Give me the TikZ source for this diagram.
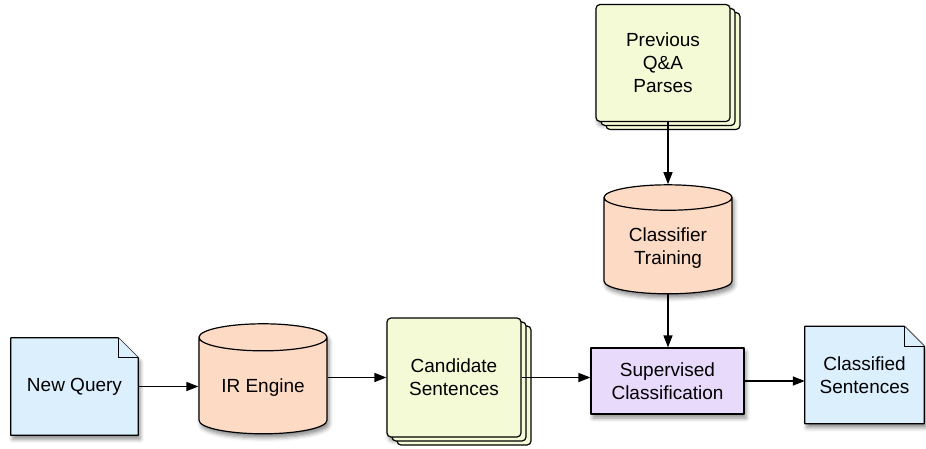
\documentclass[tikz,border=0pt]{standalone}
\usepackage{fontspec}
\setmainfont{Liberation Sans}
\usetikzlibrary{shapes.geometric, arrows.meta, shadows, shadows.blur, backgrounds}

\definecolor{docblue}{HTML}{DCEFFD}
\definecolor{dbpeach}{HTML}{FDDAC4}
\definecolor{sheetgreen}{HTML}{F5FAD6}
\definecolor{steplilac}{HTML}{E7DAFA}

\newcommand{\foldsize}{20pt}
% page with a dog-eared top right corner, drawn round a node
\newcommand{\dogear}[1]{%
  \filldraw[outline, fill=docblue, soft shadow]
    (#1.south west) -- (#1.north west) -- ([xshift=-\foldsize]#1.north east)
    -- ([yshift=-\foldsize]#1.north east) -- (#1.south east) -- cycle;
  \filldraw[outline, fill=docblue]
    ([xshift=-\foldsize]#1.north east) -- ([xshift=-\foldsize, yshift=-\foldsize]#1.north east)
    -- ([yshift=-\foldsize]#1.north east);
}

\begin{document}
\begin{tikzpicture}[x=1pt, y=-1pt,
    font=\fontsize{19}{23}\selectfont,
    outline/.style={draw=black, line width=1.2pt, line join=round},
    soft shadow/.style={blur shadow={shadow xshift=2pt, shadow yshift=-4pt, shadow blur radius=4pt, shadow opacity=45}},
    page/.style={rectangle, align=center, minimum height=97pt},
    store/.style={cylinder, shape border rotate=90, aspect=0.3, outline, fill=dbpeach, align=center, soft shadow},
    sheets/.style={rectangle, rounded corners=4pt, outline, fill=sheetgreen, align=center,
        soft shadow, double copy shadow={shadow xshift=5pt, shadow yshift=-4pt, fill=sheetgreen, draw=black, line width=1.2pt}},
    stepbox/.style={rectangle, outline, fill=steplilac, align=center, soft shadow},
    arrow/.style={-{Triangle[length=12pt, width=9pt]}, line width=1.3pt}
]
\useasboundingbox (0,0) rectangle (926,448);

\node[page, minimum width=127pt] (query) at (74.5,386.5) {New Query};
\node[store, minimum width=128pt, minimum height=110pt] (ir) at (263,388) {IR Engine};
\node[sheets, minimum width=134pt, minimum height=119pt] (cand) at (454,377.5) {Candidate\\Sentences};
\node[stepbox, minimum width=153pt, minimum height=66pt] (sup) at (667.5,381) {Supervised\\Classification};
\node[page, minimum width=119pt] (cls) at (864.5,375) {Classified\\Sentences};
\node[store, minimum width=128pt, minimum height=109pt] (train) at (668,248) {Classifier\\Training};
\node[sheets, minimum width=134pt, minimum height=117pt] (prev) at (663,63) {Previous\\Q\&A\\Parses};

\begin{scope}[on background layer]
  \dogear{query}
  \dogear{cls}
\end{scope}

\draw[arrow] (query.east) -- (query.east -| ir.west);
\draw[arrow] (cand.west -| ir.east) -- (cand.west);
\draw[arrow] (cand.east) -- (cand.east -| sup.west);
\draw[arrow] (sup.east) -- (sup.east -| cls.west);
\draw[arrow] (prev.south -| train.north) -- (train.north);
\draw[arrow] (train.south) -- (sup.north -| train.south);
\end{tikzpicture}
\end{document}
